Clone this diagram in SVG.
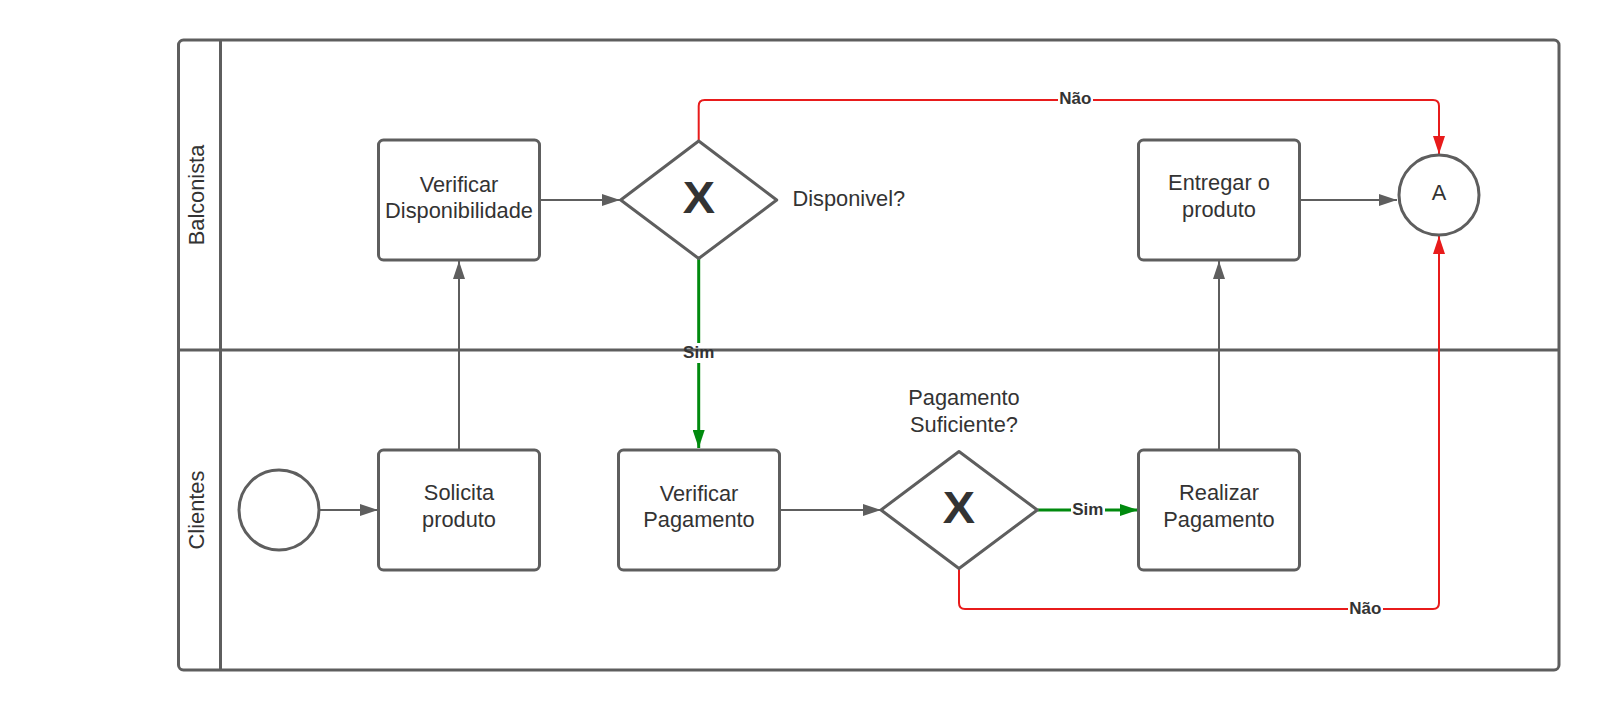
<svg xmlns="http://www.w3.org/2000/svg" width="1599" height="710" viewBox="0 0 1599 710">
<style>
.shape{fill:#fff;stroke:#5e5e5e;stroke-width:3}
.lane{fill:none;stroke:#5e5e5e;stroke-width:3}
.txt{font-family:"Liberation Sans",Arial,sans-serif;font-size:21.8px;fill:#333;text-anchor:middle}
.lbl{font-family:"Liberation Sans",Arial,sans-serif;font-size:17px;font-weight:bold;fill:#333;text-anchor:middle}
.gx{font-family:"Liberation Sans",Arial,sans-serif;font-size:44px;font-weight:bold;fill:#333;text-anchor:middle}
.gray{fill:none;stroke:#5e5e5e;stroke-width:2}
.red{fill:none;stroke:#e81b1b;stroke-width:2}
.green{fill:none;stroke:#008a0e;stroke-width:3}
</style>
<defs>
<marker id="ag" viewBox="0 0 18 12" refX="18" refY="6" markerWidth="18" markerHeight="12" markerUnits="userSpaceOnUse" orient="auto"><path d="M0,0 L18,6 L0,12 z" fill="#5e5e5e"/></marker>
<marker id="ar" viewBox="0 0 18 12" refX="18" refY="6" markerWidth="18" markerHeight="12" markerUnits="userSpaceOnUse" orient="auto"><path d="M0,0 L18,6 L0,12 z" fill="#e81b1b"/></marker>
<marker id="agr" viewBox="0 0 18 12" refX="18" refY="6" markerWidth="18" markerHeight="12" markerUnits="userSpaceOnUse" orient="auto"><path d="M0,0 L18,6 L0,12 z" fill="#008a0e"/></marker>
</defs>
<rect width="1599" height="710" fill="#fff"/>
<g id="pool">
<rect class="lane" x="178.5" y="40" width="1380.5" height="630" rx="5"/>
<line class="lane" x1="220.5" y1="40" x2="220.5" y2="670"/>
<line class="lane" x1="178.5" y1="350" x2="1559" y2="350"/>
<text class="txt" transform="translate(204,195) rotate(-90)">Balconista</text>
<text class="txt" transform="translate(204,510) rotate(-90)">Clientes</text>
</g>
<g id="connectors">
<path class="gray" d="M319.5,510 L378,510" marker-end="url(#ag)"/>
<path class="gray" d="M459,450 L459,261" marker-end="url(#ag)"/>
<path class="gray" d="M539.5,200 L620,200" marker-end="url(#ag)"/>
<path class="red" d="M698.7,141 L698.7,106 Q698.7,100 704.7,100 L1433,100 Q1439,100 1439,106 L1439,154" marker-end="url(#ar)"/>
<path class="green" d="M698.7,258.5 L698.7,343"/>
<path class="green" d="M698.7,363 L698.7,448" marker-end="url(#agr)"/>
<path class="gray" d="M779.5,510 L881,510" marker-end="url(#ag)"/>
<path class="green" d="M1037.5,510 L1138,510" marker-end="url(#agr)"/>
<path class="gray" d="M1219,450 L1219,261" marker-end="url(#ag)"/>
<path class="gray" d="M1299.5,200 L1397,200" marker-end="url(#ag)"/>
<path class="red" d="M959,568.5 L959,603 Q959,609 965,609 L1433,609 Q1439,609 1439,603 L1439,236" marker-end="url(#ar)"/>
<rect x="1058" y="90" width="35" height="19" fill="#fff"/>
<text class="lbl" x="1075.3" y="103.8">Não</text>
<text class="lbl" x="698.7" y="357.5">Sim</text>
<rect x="1071" y="500" width="34" height="19" fill="#fff"/>
<text class="lbl" x="1087.8" y="514.5">Sim</text>
<rect x="1348" y="599" width="35" height="19" fill="#fff"/>
<text class="lbl" x="1365.3" y="613.5">Não</text>
</g>
<g id="start">
<circle class="shape" cx="279" cy="510" r="40"/>
</g>
<g id="solicita">
<rect class="shape" x="378.5" y="450" width="161" height="120" rx="5"/>
<text class="txt" x="459" y="500">Solicita</text>
<text class="txt" x="459" y="526.7">produto</text>
</g>
<g id="verificarDisp">
<rect class="shape" x="378.5" y="140" width="161" height="120" rx="5"/>
<text class="txt" x="459" y="191.5">Verificar</text>
<text class="txt" x="459" y="218">Disponibilidade</text>
</g>
<g id="gateway1">
<path class="shape" d="M698.7,141 L776.7,200 L698.7,258.5 L620.7,200 Z" stroke-linejoin="round"/>
<text class="gx" transform="translate(698.8,213.3) scale(1.1,1)">X</text>
<text class="txt" x="792.5" y="206" style="text-anchor:start">Disponivel?</text>
</g>
<g id="verificarPag">
<rect class="shape" x="618.5" y="450" width="161" height="120" rx="5"/>
<text class="txt" x="699" y="500.5">Verificar</text>
<text class="txt" x="699" y="527">Pagamento</text>
</g>
<g id="gateway2">
<path class="shape" d="M959,451.5 L1037.3,510 L959,568.5 L881,510 Z" stroke-linejoin="round"/>
<text class="gx" transform="translate(959,523.3) scale(1.1,1)">X</text>
<text class="txt" x="964" y="405">Pagamento</text>
<text class="txt" x="964" y="431.7">Suficiente?</text>
</g>
<g id="realizar">
<rect class="shape" x="1138.5" y="450" width="161" height="120" rx="5"/>
<text class="txt" x="1219" y="500">Realizar</text>
<text class="txt" x="1219" y="526.7">Pagamento</text>
</g>
<g id="entregar">
<rect class="shape" x="1138.5" y="140" width="161" height="120" rx="5"/>
<text class="txt" x="1219" y="190">Entregar o</text>
<text class="txt" x="1219" y="216.7">produto</text>
</g>
<g id="endA">
<circle class="shape" cx="1439" cy="195" r="40"/>
<text class="txt" x="1439" y="200">A</text>
</g>
</svg>
